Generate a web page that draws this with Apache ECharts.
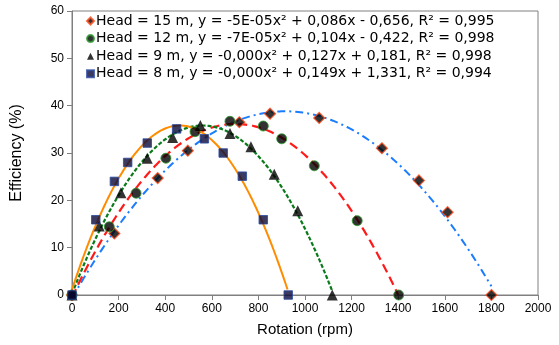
<!DOCTYPE html>
<html>
<head>
<meta charset="utf-8">
<script src="https://cdn.jsdelivr.net/npm/echarts@6/dist/echarts.min.js"></script>
<style>html,body{margin:0;padding:0;background:#fff}#c{width:559px;height:345px}</style>
</head>
<body>
<div id="c"></div>
<script>
// ---- data ----
const head15X = [0, 182, 368, 497, 718, 850, 1061, 1330, 1489, 1612, 1800];
const head15Y = [0, 13.0, 24.7, 30.5, 36.5, 38.3, 37.4, 31.0, 24.2, 17.5, 0];
const head12X = [0, 160, 275, 403, 528, 678, 821, 900, 1040, 1224, 1402];
const head12Y = [0, 14.4, 21.5, 28.9, 34.5, 36.7, 35.7, 33.0, 27.3, 15.7, 0];
const head9X = [0, 117, 210, 323, 432, 551, 678, 768, 868, 969, 1117];
const head9Y = [0, 14.6, 21.6, 28.9, 33.3, 35.8, 34.1, 31.3, 25.5, 17.8, 0];
const head8X = [0, 102, 182, 239, 323, 449, 568, 649, 731, 821, 928];
const head8Y = [0, 15.9, 24.0, 28.0, 32.1, 35.1, 33.0, 30.0, 25.1, 15.9, 0];
const legendNames = [
  'Head = 15 m, y = -5E-05x\u00b2 + 0,086x - 0,656, R\u00b2 = 0,995',
  'Head = 12 m, y = -7E-05x\u00b2 + 0,104x - 0,422, R\u00b2 = 0,998',
  'Head = 9 m, y = -0,000x\u00b2 + 0,127x + 0,181, R\u00b2 = 0,998',
  'Head = 8 m, y = -0,000x\u00b2 + 0,149x + 1,331, R\u00b2 = 0,994'
];
const xTicks = [0, 200, 400, 600, 800, 1000, 1200, 1400, 1600, 1800, 2000];
const yTicks = [0, 10, 20, 30, 40, 50, 60];

// ---- quadratic least-squares trendline (like a spreadsheet trendline) ----
function fitQuad(xs, ys) {
  let S = [0,0,0,0,0], T = [0,0,0];
  for (let i = 0; i < xs.length; i++) {
    let p = 1;
    for (let k = 0; k < 5; k++) { S[k] += p; p *= xs[i]; }
    p = 1;
    for (let k = 0; k < 3; k++) { T[k] += p * ys[i]; p *= xs[i]; }
  }
  const A = [[S[0],S[1],S[2],T[0]],[S[1],S[2],S[3],T[1]],[S[2],S[3],S[4],T[2]]];
  for (let c = 0; c < 3; c++) {
    for (let r = c + 1; r < 3; r++) {
      const f = A[r][c] / A[c][c];
      for (let k = c; k < 4; k++) A[r][k] -= f * A[c][k];
    }
  }
  const b = [0,0,0];
  for (let r = 2; r >= 0; r--) {
    let s = A[r][3];
    for (let k = r + 1; k < 3; k++) s -= A[r][k] * b[k];
    b[r] = s / A[r][r];
  }
  return b;
}
function trend(xs, ys) {
  const b = fitQuad(xs, ys);
  const out = [];
  const xmax = Math.max(...xs);
  for (let x = 0; x <= xmax; x += 5) out.push([x, b[0] + b[1]*x + b[2]*x*x]);
  return out;
}
function pairs(xs, ys) { return xs.map((x, i) => [x, ys[i]]); }

const font = 'Liberation Sans, Arial, sans-serif';
const chart = echarts.init(document.getElementById('c'), null, {renderer: 'canvas'});
const lineBase = {type: 'line', showSymbol: false, symbol: 'none', silent: true, z: 2, clip: true};
chart.setOption({
  animation: false,
  backgroundColor: '#fff',
  grid: {left: 72, right: 21, top: 11, bottom: 50, show: true, borderColor: '#808080', borderWidth: 1},
  legend: {
    data: legendNames.map(n => ({name: n})),
    orient: 'vertical', left: 86, top: 14, padding: 0,
    itemWidth: 7, itemHeight: 7, itemGap: 3.6,
    textStyle: {fontFamily: 'DejaVu Sans', fontSize: 14, color: '#000', padding: [0,0,0,-3]},
    selectedMode: false
  },
  xAxis: {
    type: 'value', min: 0, max: 2000, interval: 200,
    name: 'Rotation (rpm)', nameLocation: 'middle', nameGap: 27,
    nameTextStyle: {fontFamily: font, fontSize: 15, color: '#000'},
    axisLine: {onZero: false, lineStyle: {color: '#808080', width: 1}},
    axisTick: {show: true, inside: false, length: 5, lineStyle: {color: '#808080'}},
    axisLabel: {fontFamily: font, fontSize: 12, color: '#000', margin: 8, formatter: v => String(v)},
    splitLine: {show: false}
  },
  yAxis: {
    type: 'value', min: 0, max: 60, interval: 10,
    name: 'Efficiency (%)', nameLocation: 'middle', nameGap: 47, nameRotate: 90,
    nameTextStyle: {fontFamily: font, fontSize: 16, color: '#000'},
    axisLine: {show: true, lineStyle: {color: '#808080', width: 1}},
    axisTick: {show: true, inside: false, length: 5, lineStyle: {color: '#808080'}},
    axisLabel: {fontFamily: font, fontSize: 12, color: '#000', margin: 8, formatter: v => String(v)},
    splitLine: {show: false}
  },
  series: [
    Object.assign({}, lineBase, {name: 't15', data: trend(head15X, head15Y),
      lineStyle: {color: '#1a7cff', width: 2, type: [8, 4, 2, 4]}}),
    Object.assign({}, lineBase, {name: 't12', data: trend(head12X, head12Y),
      lineStyle: {color: '#ff1a1a', width: 2.2, type: [9, 5]}}),
    Object.assign({}, lineBase, {name: 't9', data: trend(head9X, head9Y),
      lineStyle: {color: '#0a7a1a', width: 2.2, type: [4, 2]}}),
    Object.assign({}, lineBase, {name: 't8', data: trend(head8X, head8Y),
      lineStyle: {color: '#ff8c00', width: 2}}),
    {type: 'scatter', name: legendNames[0], data: pairs(head15X, head15Y), symbol: 'diamond', symbolSize: 11, z: 5,
      itemStyle: {color: '#000', borderColor: '#ff4a1a', borderWidth: 1.2}},
    {type: 'scatter', name: legendNames[1], data: pairs(head12X, head12Y), symbol: 'circle', symbolSize: 10, z: 5,
      itemStyle: {color: '#000', borderColor: '#2a9a2a', borderWidth: 1}},
    {type: 'scatter', name: legendNames[2], data: pairs(head9X, head9Y), symbol: 'triangle', symbolSize: 11, z: 5,
      itemStyle: {color: '#000', borderColor: '#000', borderWidth: 0}},
    {type: 'scatter', name: legendNames[3], data: pairs(head8X, head8Y), symbol: 'rect', symbolSize: 8.5, z: 5,
      itemStyle: {color: '#0a0a3a', borderColor: '#2a4aa0', borderWidth: 1}}
  ]
});
</script>
</body>
</html>
